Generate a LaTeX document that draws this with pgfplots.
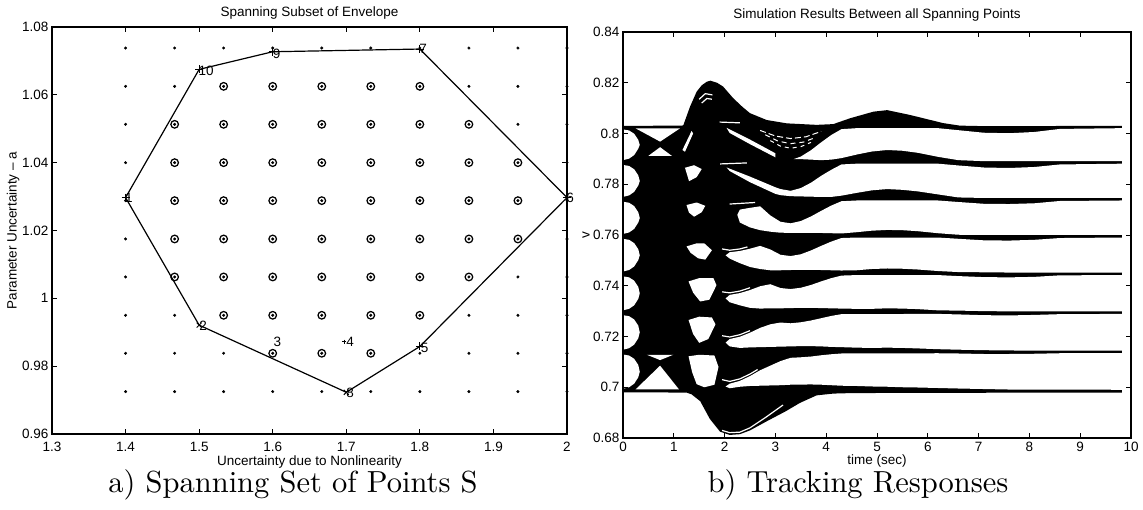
\documentclass[border=0pt]{standalone}
\usepackage{pgfplots}
\pgfplotsset{compat=1.18}
\usepackage{fontspec}
\setsansfont{Liberation Sans}
\newfontfamily\capfont{lmroman10-regular}[Extension=.otf]
\newcommand\mf{\fontsize{13.5}{16}\selectfont\sffamily}
\pgfplotsset{
  mystyle/.style={
    scale only axis, anchor=south west,
    tick label style={font=\mf}, label style={font=\mf},
    /pgf/number format/assume math mode=true,
    axis line style={line width=1.1pt},
    major tick length=5pt,
    every tick/.style={black, line width=0.9pt},
    tick align=inside,
    axis on top,
  },
  wf/.style={fill=white, draw=none, mark=none},
  wl/.style={white, line width=1.2pt, mark=none},
}
\begin{document}
\begin{tikzpicture}
\useasboundingbox (0,0) rectangle (1143pt,510pt);
% ---------------- left chart ----------------
\begin{axis}[mystyle, at={(52pt,76pt)}, width=515pt, height=407pt,
  xmin=1.3, xmax=2, ymin=0.96, ymax=1.08, clip=false,
  xtick={1.3,1.4,1.5,1.6,1.7,1.8,1.9,2},
  ytick={0.96,0.98,1,1.02,1.04,1.06,1.08},
  xticklabel style={yshift=-4.5pt},
  title={Spanning Subset of Envelope},
  every axis title/.style={at={(axis description cs:0.5,1.0344)}, anchor=center, font=\mf},
  xlabel={Uncertainty due to Nonlinearity},
  xlabel style={at={(axis description cs:0.5,-0.0688)}, anchor=center},
  ylabel={Parameter Uncertainty – a},
  ylabel style={at={(axis description cs:-0.0757,0.5)}, anchor=center},
]
% grid of all points
\addplot[only marks, mark=*, mark size=1.3pt, black] coordinates {
(1.4,0.9725) (1.4667,0.9725) (1.5333,0.9725) (1.6,0.9725) (1.6667,0.9725) (1.7333,0.9725) (1.8,0.9725) (1.8667,0.9725) (1.9333,0.9725) (2.0,0.9725)
(1.4,0.9838) (1.4667,0.9838) (1.5333,0.9838) (1.6,0.9838) (1.6667,0.9838) (1.7333,0.9838) (1.8,0.9838) (1.8667,0.9838) (1.9333,0.9838) (2.0,0.9838)
(1.4,0.995) (1.4667,0.995) (1.5333,0.995) (1.6,0.995) (1.6667,0.995) (1.7333,0.995) (1.8,0.995) (1.8667,0.995) (1.9333,0.995) (2.0,0.995)
(1.4,1.0063) (1.4667,1.0063) (1.5333,1.0063) (1.6,1.0063) (1.6667,1.0063) (1.7333,1.0063) (1.8,1.0063) (1.8667,1.0063) (1.9333,1.0063) (2.0,1.0063)
(1.4,1.0175) (1.4667,1.0175) (1.5333,1.0175) (1.6,1.0175) (1.6667,1.0175) (1.7333,1.0175) (1.8,1.0175) (1.8667,1.0175) (1.9333,1.0175) (2.0,1.0175)
(1.4,1.0288) (1.4667,1.0288) (1.5333,1.0288) (1.6,1.0288) (1.6667,1.0288) (1.7333,1.0288) (1.8,1.0288) (1.8667,1.0288) (1.9333,1.0288) (2.0,1.0288)
(1.4,1.04) (1.4667,1.04) (1.5333,1.04) (1.6,1.04) (1.6667,1.04) (1.7333,1.04) (1.8,1.04) (1.8667,1.04) (1.9333,1.04) (2.0,1.04)
(1.4,1.0513) (1.4667,1.0513) (1.5333,1.0513) (1.6,1.0513) (1.6667,1.0513) (1.7333,1.0513) (1.8,1.0513) (1.8667,1.0513) (1.9333,1.0513) (2.0,1.0513)
(1.4,1.0625) (1.4667,1.0625) (1.5333,1.0625) (1.6,1.0625) (1.6667,1.0625) (1.7333,1.0625) (1.8,1.0625) (1.8667,1.0625) (1.9333,1.0625) (2.0,1.0625)
(1.4,1.0738) (1.4667,1.0738) (1.5333,1.0738) (1.6,1.0738) (1.6667,1.0738) (1.7333,1.0738) (1.8,1.0738) (1.8667,1.0738) (1.9333,1.0738) (2.0,1.0738)
};
% circled (inner) points
\addplot[only marks, mark=o, mark size=3.8pt, black, mark options={line width=1.25pt}] coordinates {
(1.5333,1.0625) (1.6,1.0625) (1.6667,1.0625) (1.7333,1.0625) (1.8,1.0625)
(1.4667,1.0513) (1.5333,1.0513) (1.6,1.0513) (1.6667,1.0513) (1.7333,1.0513) (1.8,1.0513) (1.8667,1.0513)
(1.4667,1.04) (1.5333,1.04) (1.6,1.04) (1.6667,1.04) (1.7333,1.04) (1.8,1.04) (1.8667,1.04) (1.9333,1.04)
(1.4667,1.0288) (1.5333,1.0288) (1.6,1.0288) (1.6667,1.0288) (1.7333,1.0288) (1.8,1.0288) (1.8667,1.0288) (1.9333,1.0288)
(1.4667,1.0175) (1.5333,1.0175) (1.6,1.0175) (1.6667,1.0175) (1.7333,1.0175) (1.8,1.0175) (1.8667,1.0175) (1.9333,1.0175)
(1.4667,1.0063) (1.5333,1.0063) (1.6,1.0063) (1.6667,1.0063) (1.7333,1.0063) (1.8,1.0063) (1.8667,1.0063)
(1.5333,0.995) (1.6,0.995) (1.6667,0.995) (1.7333,0.995) (1.8,0.995)
(1.6,0.9838) (1.6667,0.9838) (1.7333,0.9838)
};
% envelope polygon
\addplot[black, line width=1.2pt, mark=none] coordinates {
(1.4,1.0297) (1.5,1.0675) (1.6,1.0727) (1.8,1.0735) (2.0,1.0297) (1.8,0.9858) (1.7,0.9723) (1.5,0.9921) (1.4,1.0297)
};
\addplot[only marks, mark=+, mark size=4pt, black, mark options={line width=1pt}] coordinates {
(1.4,1.0297) (1.5,1.0675) (1.6,1.0727) (1.8,1.0735) (2.0,1.0297) (1.8,0.9858)
};
\addplot[only marks, mark=x, mark size=3.5pt, black, mark options={line width=1pt}] coordinates {
(1.5,0.9921) (1.7,0.9723)
};
\addplot[only marks, mark=+, mark size=2.2pt, black, mark options={line width=0.8pt}] coordinates {(1.697,0.9872)};
\node[anchor=west, inner sep=0pt, font=\mf] at (axis cs:1.399,1.0297) {1};
\node[anchor=west, inner sep=0pt, font=\mf] at (axis cs:1.5,0.9918) {2};
\node[anchor=west, inner sep=0pt, font=\mf] at (axis cs:1.601,0.9872) {3};
\node[anchor=west, inner sep=0pt, font=\mf] at (axis cs:1.7,0.9872) {4};
\node[anchor=west, inner sep=0pt, font=\mf] at (axis cs:1.801,0.9855) {5};
\node[anchor=west, inner sep=0pt, font=\mf] at (axis cs:1.999,1.0297) {6};
\node[anchor=west, inner sep=0pt, font=\mf] at (axis cs:1.799,1.0735) {7};
\node[anchor=west, inner sep=0pt, font=\mf] at (axis cs:1.7,0.9720) {8};
\node[anchor=west, inner sep=0pt, font=\mf] at (axis cs:1.6,1.0722) {9};
\node[anchor=west, inner sep=0pt, font=\mf] at (axis cs:1.499,1.0672) {10};
\end{axis}
% ---------------- right chart ----------------
\begin{axis}[mystyle, at={(623pt,72pt)}, width=508pt, height=406pt,
  xmin=0, xmax=10, ymin=0.68, ymax=0.84,
  xtick={0,1,2,3,4,5,6,7,8,9,10},
  ytick={0.68,0.7,0.72,0.74,0.76,0.78,0.8,0.82,0.84},
  xticklabel style={yshift=-0.5pt},
  title={Simulation Results Between all Spanning Points},
  every axis title/.style={at={(axis description cs:0.5,1.0419)}, anchor=center, font=\mf},
  xlabel={time (sec)},
  xlabel style={at={(axis description cs:0.5,-0.0567)}, anchor=center},
  ylabel={v},
  ylabel style={at={(axis description cs:-0.0728,0.5)}, anchor=center},
]
% overall envelope of all responses
\addplot[fill=black, draw=none, mark=none] coordinates {
(0,0.8030) (1.17,0.8031) (1.19,0.8034) (1.32,0.8106) (1.45,0.8165) (1.55,0.8190) (1.65,0.8204) (1.72,0.8208) (1.85,0.8200) (1.97,0.8185) (2.17,0.8139) (2.35,0.8105) (2.5,0.8080) (2.83,0.8053) (3.22,0.8040) (3.81,0.8034) (4.14,0.8037) (4.47,0.8060) (4.93,0.8086) (5.2,0.8092) (5.65,0.8073) (6.3,0.8041) (6.63,0.8031) (7.1,0.8029) (9.82,0.8030)
(9.82,0.6979) (6,0.6978) (4.5,0.6977) (4.14,0.6975) (3.81,0.6968) (3.48,0.6938) (3.2,0.6905) (2.83,0.6866) (2.5,0.6830) (2.3,0.6815) (2.1,0.6812) (1.91,0.6825) (1.71,0.6875) (1.52,0.6945) (1.35,0.6972) (1.25,0.6979) (0,0.6980)
};
% lenses at t=0 between adjacent levels
\addplot[wf] coordinates {(0,0.6994) (0.12,0.7000) (0.22,0.7014) (0.30,0.7039) (0.33,0.7061) (0.30,0.7088) (0.22,0.7112) (0.12,0.7125) (0,0.7129)};
\addplot[wf] coordinates {(0,0.7148) (0.12,0.7154) (0.22,0.7168) (0.30,0.7193) (0.33,0.7216) (0.30,0.7243) (0.22,0.7267) (0.12,0.7280) (0,0.7284)};
\addplot[wf] coordinates {(0,0.7303) (0.12,0.7309) (0.22,0.7323) (0.30,0.7348) (0.33,0.7370) (0.30,0.7396) (0.22,0.7420) (0.12,0.7433) (0,0.7437)};
\addplot[wf] coordinates {(0,0.7456) (0.12,0.7462) (0.22,0.7476) (0.30,0.7501) (0.33,0.7520) (0.30,0.7544) (0.22,0.7568) (0.12,0.7581) (0,0.7585)};
\addplot[wf] coordinates {(0,0.7604) (0.12,0.7610) (0.22,0.7624) (0.30,0.7649) (0.33,0.7667) (0.30,0.7690) (0.22,0.7714) (0.12,0.7727) (0,0.7731)};
\addplot[wf] coordinates {(0,0.7750) (0.12,0.7756) (0.22,0.7770) (0.30,0.7795) (0.33,0.7813) (0.30,0.7835) (0.22,0.7859) (0.12,0.7872) (0,0.7876)};
\addplot[wf] coordinates {(0,0.7895) (0.12,0.7901) (0.22,0.7915) (0.30,0.7940) (0.33,0.7955) (0.30,0.7975) (0.22,0.7999) (0.12,0.8012) (0,0.8016)};
% crossing triangles
\addplot[wf] coordinates {(0.25,0.8020) (1.12,0.8020) (0.73,0.7968)};
\addplot[wf] coordinates {(0.73,0.7946) (0.5,0.7912) (0.96,0.7912)};
\addplot[wf] coordinates {(0.25,0.6992) (1.1,0.6992) (0.73,0.7085)};
\addplot[wf] coordinates {(0.73,0.7107) (0.47,0.7128) (0.99,0.7128)};
% wedges
\addplot[wf] coordinates {(1.29,0.7122) (1.5,0.7128) (1.8,0.7125) (1.88,0.7080) (1.8,0.7010) (1.6,0.7000) (1.45,0.7012) (1.36,0.7060)};
\addplot[wf] coordinates {(1.29,0.7265) (1.5,0.7278) (1.75,0.7275) (1.82,0.7248) (1.68,0.7190) (1.5,0.7175) (1.38,0.7210)};
\addplot[wf] coordinates {(1.29,0.7417) (1.5,0.7430) (1.78,0.7430) (1.84,0.7402) (1.7,0.7345) (1.52,0.7338) (1.38,0.7373)};
\addplot[wf] coordinates {(1.25,0.7555) (1.45,0.7567) (1.6,0.7567) (1.75,0.7540) (1.62,0.7503) (1.48,0.7508) (1.33,0.7530)};
\addplot[wf] coordinates {(1.25,0.7718) (1.45,0.7728) (1.62,0.7715) (1.55,0.7690) (1.4,0.7672) (1.3,0.7688)};
\addplot[wf] coordinates {(1.22,0.7865) (1.40,0.7875) (1.55,0.7860) (1.45,0.7828) (1.30,0.7812)};
\addplot[wf] coordinates {(1.17,0.7935) (1.35,0.8010) (1.38,0.8000) (1.22,0.7928)};
% gaps between the settling bands
\addplot[wf] coordinates {(2.02,0.7003) (2.1,0.7014) (2.3,0.7025) (2.5,0.7044) (2.7,0.7067) (2.9,0.7085) (3.1,0.7103) (3.3,0.7116) (3.5,0.7118) (3.7,0.7121) (3.9,0.7126) (4.1,0.7130) (4.3,0.7133) (6.2,0.7134) (6.6,0.7133) (7.1,0.7131) (7.6,0.7131) (8.1,0.7132) (8.6,0.7134) (9.82,0.7134) (9.82,0.6990) (8.1,0.6991) (7.6,0.6991) (7.1,0.6993) (6.6,0.6995) (6.2,0.6997) (5.8,0.6999) (5.5,0.7000) (5.2,0.7002) (4.9,0.7003) (4.6,0.7005) (4.3,0.7006) (4.1,0.7008) (3.9,0.7010) (3.7,0.7011) (3.3,0.7010) (3.1,0.7008) (2.7,0.7006) (2.5,0.7005) (2.3,0.7002) (2.1,0.6996)};
\addplot[wf] coordinates {(2.02,0.7176) (2.1,0.7190) (2.3,0.7199) (2.5,0.7215) (2.7,0.7234) (2.9,0.7248) (3.1,0.7255) (3.3,0.7252) (3.5,0.7256) (3.7,0.7263) (3.9,0.7272) (4.1,0.7281) (4.3,0.7288) (6.2,0.7289) (6.6,0.7287) (7.1,0.7284) (7.6,0.7283) (8.1,0.7285) (8.6,0.7288) (9.82,0.7289) (9.82,0.7144) (8.1,0.7144) (7.6,0.7145) (7.1,0.7146) (6.6,0.7148) (6.2,0.7150) (5.8,0.7153) (5.5,0.7155) (5.2,0.7156) (4.9,0.7155) (4.6,0.7156) (4.3,0.7158) (4.1,0.7159) (3.9,0.7161) (3.7,0.7162) (3.5,0.7162) (3.3,0.7161) (3.1,0.7160) (2.9,0.7159) (2.7,0.7158) (2.5,0.7157) (2.3,0.7155) (2.1,0.7161)};
\addplot[wf] coordinates {(2.02,0.7350) (2.1,0.7364) (2.3,0.7371) (2.5,0.7383) (2.7,0.7398) (2.9,0.7406) (3.1,0.7391) (3.3,0.7387) (3.5,0.7392) (3.7,0.7403) (3.9,0.7417) (4.1,0.7430) (4.3,0.7440) (4.6,0.7442) (6.2,0.7442) (6.6,0.7438) (7.1,0.7434) (7.6,0.7433) (8.1,0.7435) (8.6,0.7441) (9.82,0.7442) (9.82,0.7299) (7.6,0.7299) (7.1,0.7300) (6.6,0.7302) (6.2,0.7303) (5.8,0.7308) (5.5,0.7310) (5.2,0.7311) (4.9,0.7309) (4.6,0.7309) (4.3,0.7310) (4.1,0.7311) (3.9,0.7312) (3.7,0.7313) (3.5,0.7313) (3.3,0.7312) (3.1,0.7311) (2.9,0.7311) (2.7,0.7310) (2.5,0.7313) (2.3,0.7323) (2.1,0.7335)};
\addplot[wf] coordinates {(2.02,0.7520) (2.1,0.7532) (2.3,0.7537) (2.5,0.7546) (2.7,0.7557) (2.9,0.7543) (3.1,0.7522) (3.3,0.7517) (3.5,0.7524) (3.7,0.7539) (3.9,0.7557) (4.1,0.7574) (4.3,0.7588) (4.6,0.7590) (6.2,0.7590) (6.6,0.7585) (7.1,0.7579) (7.6,0.7578) (8.1,0.7581) (8.6,0.7588) (9.82,0.7590) (9.82,0.7452) (7.6,0.7452) (7.1,0.7453) (6.6,0.7454) (6.2,0.7458) (5.8,0.7464) (5.5,0.7467) (5.2,0.7468) (4.9,0.7466) (4.6,0.7461) (4.3,0.7460) (4.1,0.7461) (3.9,0.7462) (3.7,0.7463) (3.5,0.7463) (3.3,0.7462) (3.1,0.7461) (2.9,0.7461) (2.7,0.7466) (2.5,0.7474) (2.3,0.7489) (2.1,0.7507)};
\addplot[wf] coordinates {(2.25,0.7680) (2.3,0.7700) (2.5,0.7707) (2.7,0.7713) (2.9,0.7677) (3.1,0.7652) (3.3,0.7646) (3.5,0.7655) (3.7,0.7673) (3.9,0.7695) (4.1,0.7716) (4.3,0.7733) (4.6,0.7736) (6.2,0.7736) (6.6,0.7730) (7.1,0.7723) (7.6,0.7722) (8.1,0.7725) (8.6,0.7734) (9.82,0.7736) (9.82,0.7600) (7.1,0.7600) (6.6,0.7601) (6.2,0.7607) (5.8,0.7615) (5.5,0.7619) (5.2,0.7620) (4.9,0.7617) (4.6,0.7611) (4.3,0.7606) (4.1,0.7607) (3.9,0.7608) (3.5,0.7608) (3.1,0.7609) (2.9,0.7613) (2.7,0.7619) (2.5,0.7630) (2.3,0.7649)};
\addplot[wf] coordinates {(2.04,0.7866) (2.5,0.7830) (3.0,0.7788) (3.1,0.7781) (3.3,0.7774) (3.5,0.7785) (3.7,0.7806) (3.9,0.7833) (4.1,0.7857) (4.3,0.7878) (4.6,0.7881) (6.2,0.7881) (6.6,0.7874) (7.1,0.7866) (7.6,0.7864) (8.1,0.7868) (8.6,0.7878) (9.82,0.7881) (9.82,0.7746) (7.1,0.7746) (6.6,0.7748) (6.2,0.7760) (5.8,0.7772) (5.5,0.7778) (5.2,0.7781) (4.9,0.7776) (4.6,0.7766) (4.3,0.7755) (4.1,0.7750) (3.9,0.7750) (3.7,0.7751) (3.5,0.7752) (3.3,0.7753) (3.1,0.7757) (3.0,0.7762) (2.5,0.7808) (2.1,0.7852)};
\addplot[wf] coordinates {(2.04,0.8022) (2.5,0.7976) (3.0,0.7922) (3.0,0.7906) (2.5,0.7958) (2.1,0.8002)};
\addplot[wf] coordinates {(3.36,0.7899) (3.5,0.7909) (3.7,0.7934) (3.9,0.7965) (4.1,0.7994) (4.3,0.8017) (4.6,0.8021) (6.2,0.8021) (6.6,0.8013) (7.1,0.8003) (7.6,0.8001) (8.1,0.8006) (8.6,0.8018) (9.82,0.8021) (9.82,0.7891) (7.1,0.7891) (6.6,0.7895) (6.2,0.7908) (5.8,0.7924) (5.5,0.7932) (5.2,0.7935) (4.9,0.7929) (4.6,0.7917) (4.3,0.7903) (4.1,0.7897) (3.9,0.7895) (3.7,0.7897) (3.5,0.7899)};
% thin white slivers inside the bands
\addplot[wl] coordinates {(1.95,0.6830) (2.1,0.6821) (2.3,0.6823) (2.5,0.6840) (2.8,0.6880) (3.15,0.6930)};
\addplot[wl] coordinates {(1.95,0.7030) (2.1,0.7023) (2.3,0.7033) (2.5,0.7052) (2.65,0.7070)};
\addplot[wl] coordinates {(1.95,0.7203) (2.1,0.7198) (2.3,0.7207) (2.5,0.7223)};
\addplot[wl] coordinates {(1.95,0.7376) (2.1,0.7372) (2.3,0.7379) (2.5,0.7392)};
\addplot[wl] coordinates {(1.95,0.7545) (2.1,0.7540) (2.3,0.7545) (2.45,0.7553)};
\addplot[wl] coordinates {(1.91,0.7880) (2.44,0.7884)};
\addplot[wl] coordinates {(2.1,0.7722) (2.6,0.7728)};
\addplot[wl] coordinates {(1.9,0.8045) (2.3,0.8042)};
\addplot[wl] coordinates {(1.5,0.8135) (1.62,0.8157) (1.76,0.8152)};
\addplot[wl] coordinates {(1.55,0.8120) (1.65,0.8138) (1.75,0.8135)};
\addplot[wl, line width=1pt, dash pattern=on 6pt off 3pt] coordinates {(2.7,0.8012) (3.0,0.7990) (3.3,0.7980) (3.6,0.7987) (3.9,0.8008)};
\addplot[wl, line width=1pt, dash pattern=on 5pt off 4pt] coordinates {(2.8,0.7995) (3.05,0.7970) (3.3,0.7960) (3.55,0.7966) (3.8,0.7985)};
\addplot[wl, line width=1pt, dash pattern=on 4pt off 4pt] coordinates {(2.9,0.7972) (3.1,0.7950) (3.3,0.7942) (3.5,0.7948) (3.7,0.7965)};
\end{axis}
\node[font=\capfont\fontsize{30.5}{36}\selectfont, anchor=base] at (293pt,17pt) {a) Spanning Set of Points S};
\node[font=\capfont\fontsize{30.5}{36}\selectfont, anchor=base] at (858pt,17pt) {b) Tracking Responses};
\end{tikzpicture}
\end{document}
